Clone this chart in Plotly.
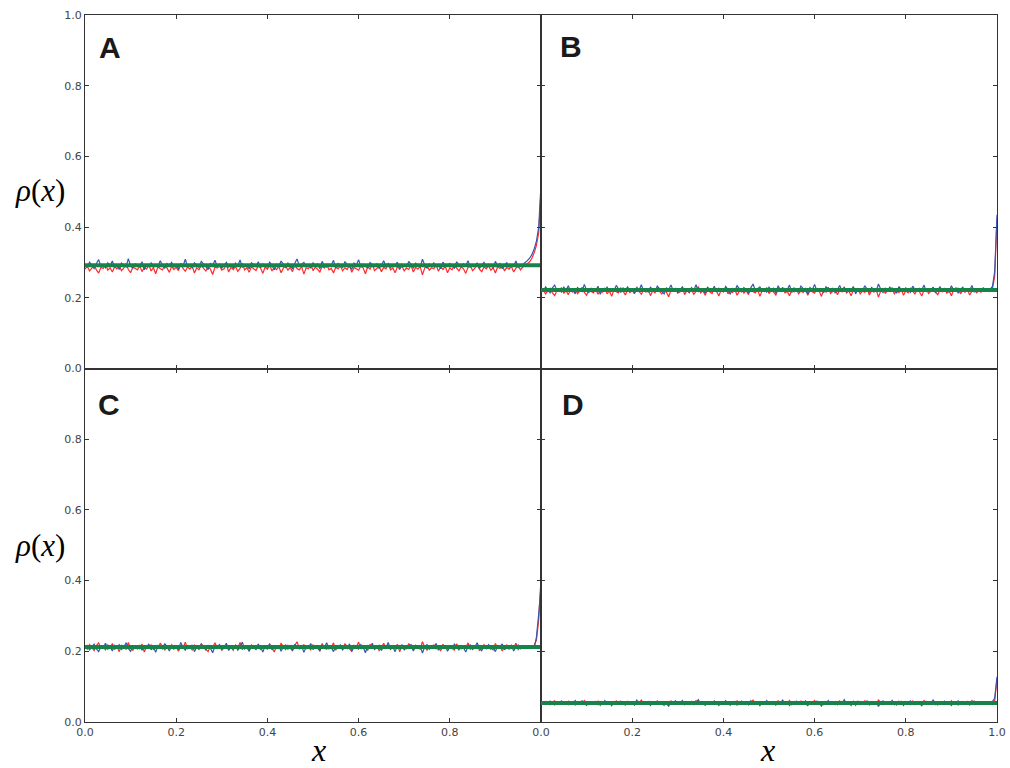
import plotly.graph_objects as go
from plotly.subplots import make_subplots

# x positions of the sampled profile (0 .. 1, step 0.005)
x_vals = [k / 200 for k in range(201)]

A_red = [
.281,.289,.276,.284,.292,.279,.270,.286,.283,.295,.278,.285,.273,.288,.282,.290,
.277,.284,.296,.280,.271,.287,.283,.279,.291,.274,.286,.281,.293,.276,.285,.268,
.288,.282,.279,.294,.284,.272,.289,.280,.286,.277,.297,.283,.275,.287,.281,.290,
.270,.285,.279,.292,.283,.276,.288,.281,.266,.287,.284,.291,.278,.282,.295,.273,
.286,.280,.289,.275,.283,.298,.279,.285,.272,.288,.282,.277,.291,.284,.269,.287,
.281,.293,.276,.285,.280,.289,.271,.284,.290,.278,.286,.274,.292,.283,.279,.288,
.267,.285,.282,.294,.277,.286,.281,.273,.289,.284,.296,.279,.283,.270,.287,.282,
.290,.276,.285,.280,.293,.272,.286,.283,.278,.291,.284,.268,.288,.281,.295,.277,
.284,.289,.274,.286,.282,.297,.279,.285,.271,.287,.283,.290,.276,.284,.280,.292,
.273,.286,.281,.288,.265,.284,.291,.278,.285,.282,.294,.275,.287,.280,.289,.271,
.285,.279,.292,.283,.276,.288,.282,.269,.286,.290,.277,.284,.296,.281,.274,.287,
.282,.291,.278,.285,.270,.288,.283,.293,.276,.286,.281,.289,.273,.284,.290,.279,
.287,.291,.296,.302,.312,.327,.348,.385,.505]

A_blue = [
.294,.287,.301,.290,.283,.297,.308,.289,.293,.285,.299,.291,.304,.286,.295,.280,
.298,.292,.287,.311,.290,.284,.296,.293,.288,.302,.279,.294,.290,.299,.286,.293,
.289,.305,.292,.284,.297,.291,.300,.287,.294,.281,.296,.290,.309,.288,.293,.285,
.299,.291,.286,.303,.294,.288,.280,.297,.292,.306,.289,.295,.284,.291,.300,.287,
.293,.284,.298,.290,.307,.286,.294,.291,.282,.299,.293,.288,.302,.285,.296,.290,
.287,.301,.292,.279,.295,.289,.304,.293,.286,.298,.291,.283,.297,.310,.290,.294,
.300,.288,.293,.285,.299,.291,.296,.282,.303,.290,.287,.295,.292,.306,.284,.297,
.291,.286,.302,.294,.289,.281,.298,.292,.308,.287,.295,.290,.284,.300,.293,.288,
.296,.283,.292,.305,.289,.297,.286,.294,.291,.301,.280,.295,.290,.288,.303,.292,
.285,.298,.291,.287,.309,.293,.284,.296,.290,.299,.288,.294,.282,.301,.292,.289,
.297,.290,.284,.302,.293,.288,.296,.291,.305,.286,.294,.289,.299,.283,.292,.300,
.288,.295,.291,.285,.303,.290,.297,.282,.293,.299,.287,.294,.290,.304,.286,.293,
.294,.299,.305,.312,.322,.338,.360,.400,.520]

B_red = [
.217,.223,.211,.220,.227,.214,.206,.221,.218,.229,.213,.220,.209,.224,.216,.226,
.212,.219,.230,.215,.207,.222,.218,.214,.225,.210,.221,.216,.228,.211,.220,.204,
.223,.217,.214,.228,.219,.208,.224,.215,.221,.212,.231,.218,.210,.222,.216,.225,
.206,.220,.214,.227,.218,.211,.223,.216,.203,.222,.219,.226,.213,.217,.229,.209,
.221,.215,.224,.210,.218,.232,.214,.220,.207,.223,.217,.212,.226,.219,.205,.222,
.216,.228,.211,.220,.215,.224,.207,.219,.225,.213,.221,.209,.227,.218,.214,.223,
.204,.220,.217,.229,.212,.221,.216,.208,.224,.219,.230,.214,.218,.206,.222,.217,
.225,.211,.220,.215,.228,.207,.221,.218,.213,.226,.219,.204,.223,.216,.230,.212,
.219,.224,.209,.221,.217,.231,.214,.220,.206,.222,.218,.225,.211,.219,.215,.227,
.208,.221,.216,.223,.202,.219,.226,.213,.220,.217,.229,.210,.222,.215,.224,.207,
.220,.214,.227,.218,.211,.223,.217,.205,.221,.225,.212,.219,.230,.216,.209,.222,
.217,.226,.213,.220,.206,.223,.218,.228,.211,.221,.216,.224,.208,.219,.225,.214,
.220,.216,.223,.218,.221,.219,.225,.262,.425]

B_blue = [
.225,.218,.231,.221,.214,.228,.236,.220,.224,.216,.230,.222,.234,.217,.226,.211,
.229,.223,.218,.238,.221,.215,.227,.224,.219,.233,.210,.225,.221,.230,.217,.224,
.220,.235,.223,.215,.228,.222,.231,.218,.225,.212,.227,.221,.237,.219,.224,.216,
.230,.222,.217,.233,.225,.219,.211,.228,.223,.236,.220,.226,.215,.222,.231,.218,
.224,.215,.229,.221,.237,.217,.225,.222,.213,.230,.224,.219,.233,.216,.227,.221,
.218,.232,.223,.210,.226,.220,.234,.224,.217,.229,.222,.214,.228,.239,.221,.225,
.231,.219,.224,.216,.230,.222,.227,.213,.234,.221,.218,.226,.223,.236,.215,.228,
.222,.217,.233,.225,.220,.212,.229,.223,.238,.218,.226,.221,.215,.231,.224,.219,
.227,.214,.223,.235,.220,.228,.217,.225,.222,.232,.211,.226,.221,.219,.234,.223,
.216,.229,.222,.218,.239,.224,.215,.227,.221,.230,.219,.225,.213,.232,.223,.220,
.228,.221,.215,.233,.224,.219,.227,.222,.236,.217,.225,.220,.230,.214,.223,.231,
.219,.226,.222,.216,.234,.221,.228,.213,.224,.230,.218,.225,.221,.235,.217,.224,
.225,.221,.228,.223,.226,.224,.232,.275,.435]

C_red = [
.213,.206,.219,.209,.202,.216,.224,.208,.212,.204,.218,.210,.222,.205,.214,.199,
.217,.211,.206,.225,.209,.203,.215,.212,.207,.221,.198,.213,.209,.218,.205,.212,
.208,.223,.211,.203,.216,.210,.219,.206,.213,.200,.215,.209,.226,.207,.212,.204,
.218,.210,.205,.221,.213,.207,.199,.216,.211,.224,.208,.214,.203,.210,.219,.206,
.212,.203,.217,.209,.225,.205,.213,.210,.201,.218,.212,.207,.221,.204,.215,.209,
.206,.220,.211,.198,.214,.208,.222,.212,.205,.217,.210,.202,.216,.227,.209,.213,
.219,.207,.212,.204,.218,.210,.215,.201,.222,.209,.206,.214,.211,.224,.203,.216,
.210,.205,.221,.213,.208,.200,.217,.211,.226,.206,.214,.209,.203,.219,.212,.207,
.215,.202,.211,.223,.208,.216,.205,.213,.210,.220,.199,.214,.209,.207,.222,.211,
.204,.217,.210,.206,.227,.212,.203,.215,.209,.218,.207,.213,.201,.220,.211,.208,
.216,.209,.203,.221,.212,.207,.215,.210,.224,.205,.213,.208,.218,.202,.211,.219,
.207,.214,.210,.204,.222,.209,.216,.201,.212,.218,.206,.213,.209,.223,.205,.212,
.209,.214,.210,.213,.208,.216,.232,.290,.405]

C_blue = [
.209,.216,.204,.213,.220,.207,.199,.214,.211,.223,.206,.212,.201,.217,.210,.219,
.205,.212,.224,.208,.200,.215,.211,.207,.218,.203,.214,.209,.221,.204,.213,.197,
.216,.210,.207,.222,.212,.201,.217,.208,.214,.205,.225,.211,.203,.215,.209,.218,
.199,.213,.207,.220,.211,.204,.216,.209,.196,.215,.212,.219,.206,.210,.223,.202,
.214,.208,.217,.203,.211,.226,.207,.213,.200,.216,.210,.205,.219,.212,.198,.215,
.209,.221,.204,.213,.208,.217,.200,.212,.218,.206,.214,.202,.220,.211,.207,.216,
.197,.213,.210,.222,.205,.214,.209,.201,.217,.212,.224,.207,.211,.199,.215,.210,
.218,.204,.213,.208,.221,.200,.214,.211,.206,.219,.212,.196,.216,.209,.223,.205,
.212,.217,.202,.214,.210,.225,.207,.213,.199,.215,.211,.218,.204,.212,.208,.220,
.201,.214,.209,.216,.195,.212,.219,.206,.213,.210,.222,.203,.215,.208,.217,.200,
.213,.207,.220,.211,.204,.216,.210,.198,.214,.218,.205,.212,.224,.209,.202,.215,
.210,.219,.206,.213,.199,.216,.211,.221,.204,.214,.209,.217,.201,.212,.218,.207,
.213,.208,.215,.211,.214,.210,.240,.305,.385]

D_red = [
.055,.051,.058,.053,.049,.056,.060,.052,.054,.050,.057,.053,.059,.051,.055,.048,
.057,.054,.051,.061,.053,.049,.056,.054,.052,.059,.047,.055,.053,.058,.051,.054,
.052,.060,.054,.050,.057,.053,.058,.051,.055,.048,.056,.053,.062,.052,.054,.050,
.058,.053,.051,.059,.055,.052,.047,.057,.054,.060,.052,.056,.050,.053,.058,.051,
.055,.050,.057,.053,.061,.051,.055,.053,.048,.058,.054,.052,.059,.050,.056,.053,
.051,.059,.054,.047,.056,.053,.060,.054,.051,.057,.053,.049,.056,.062,.052,.055,
.058,.052,.054,.050,.057,.053,.056,.048,.060,.053,.051,.055,.054,.061,.049,.056,
.053,.051,.059,.055,.052,.047,.057,.054,.061,.051,.055,.053,.049,.058,.054,.052,
.056,.049,.054,.060,.052,.057,.051,.055,.053,.059,.047,.056,.053,.051,.060,.054,
.050,.057,.053,.051,.062,.055,.049,.056,.053,.058,.052,.055,.048,.059,.054,.052,
.057,.053,.049,.059,.055,.052,.056,.053,.061,.050,.055,.052,.058,.049,.054,.058,
.052,.056,.054,.050,.060,.053,.057,.048,.055,.058,.051,.056,.053,.061,.050,.055,
.054,.052,.056,.053,.055,.054,.055,.061,.122]

D_blue = [
.053,.057,.050,.055,.059,.052,.048,.056,.054,.060,.051,.055,.049,.058,.053,.061,
.051,.055,.060,.052,.047,.057,.054,.051,.058,.049,.056,.053,.061,.050,.055,.046,
.057,.053,.050,.059,.054,.048,.058,.052,.056,.049,.062,.054,.050,.056,.053,.058,
.047,.055,.051,.059,.054,.050,.057,.053,.045,.056,.055,.060,.052,.054,.061,.049,
.056,.052,.058,.049,.054,.063,.051,.055,.048,.057,.053,.050,.059,.055,.047,.056,
.053,.060,.050,.055,.052,.058,.048,.054,.059,.051,.056,.049,.060,.054,.051,.057,
.046,.055,.053,.061,.050,.056,.052,.048,.058,.054,.062,.051,.055,.047,.057,.053,
.059,.050,.055,.052,.060,.047,.056,.054,.051,.059,.054,.045,.057,.053,.061,.050,
.054,.058,.049,.056,.053,.063,.051,.055,.047,.057,.054,.059,.050,.054,.052,.060,
.048,.056,.053,.057,.044,.054,.060,.051,.055,.053,.061,.049,.056,.052,.058,.047,
.055,.051,.060,.054,.049,.057,.053,.046,.056,.059,.050,.054,.062,.052,.048,.056,
.053,.059,.050,.055,.047,.057,.054,.060,.051,.056,.052,.058,.048,.055,.059,.051,
.055,.051,.057,.054,.056,.053,.058,.068,.128]

# theoretical (flat) density levels
green_levels = {"A": 0.292, "B": 0.222, "C": 0.212, "D": 0.054}
green_x = [0.0, 1.0]

panels = [
    ("A", 1, 1, A_red, A_blue),
    ("B", 1, 2, B_red, B_blue),
    ("C", 2, 1, C_red, C_blue),
    ("D", 2, 2, D_red, D_blue),
]

tick_vals = [0.0, 0.2, 0.4, 0.6, 0.8, 1.0]
tick_text = ["0.0", "0.2", "0.4", "0.6", "0.8", "1.0"]

RED = "#ff2a2a"
BLUE = "#3556b0"
GREEN = "#16834a"
AXC = "#333333"

fig = make_subplots(rows=2, cols=2, horizontal_spacing=0, vertical_spacing=0)

for name, r, c, red, blue in panels:
    fig.add_trace(go.Scatter(x=x_vals, y=red, mode="lines",
                             line=dict(color=RED, width=1.2), showlegend=False), row=r, col=c)
    fig.add_trace(go.Scatter(x=x_vals, y=blue, mode="lines",
                             line=dict(color=BLUE, width=1.2), showlegend=False), row=r, col=c)
    fig.add_trace(go.Scatter(x=green_x, y=[green_levels[name]] * 2, mode="lines",
                             line=dict(color=GREEN, width=4), showlegend=False), row=r, col=c)

    show_x = (r == 2)
    show_y = (c == 1)
    xt = tick_vals if (c == 2 or r == 1) else tick_vals[:-1]
    yt = tick_vals if (r == 1 or c == 2) else tick_vals[:-1]
    fig.update_xaxes(range=[0, 1], showgrid=False, zeroline=False, showline=True,
                     linecolor=AXC, linewidth=1, mirror="ticks", ticks="inside",
                     ticklen=4, tickcolor=AXC, tickvals=xt, automargin=False,
                     ticktext=[tick_text[tick_vals.index(v)] for v in xt],
                     showticklabels=show_x,
                     tickfont=dict(family="DejaVu Sans", size=11, color="#444444"),
                     row=r, col=c)
    fig.update_yaxes(range=[0, 1], showgrid=False, zeroline=False, showline=True,
                     linecolor=AXC, linewidth=1, mirror="ticks", ticks="inside",
                     ticklen=4, tickcolor=AXC, tickvals=yt, automargin=False,
                     ticktext=[tick_text[tick_vals.index(v)] for v in yt],
                     showticklabels=show_y,
                     tickfont=dict(family="DejaVu Sans", size=11, color="#444444"),
                     row=r, col=c)

W, H = 1010, 768
ML, MR, MT, MB = 85, 13, 15, 46
pw, ph = W - ML - MR, H - MT - MB


def px(xp):
    return (xp - ML) / pw


def py(yp):
    return 1 - (yp - MT) / ph


annots = []
label_pos = {"A": (109.5, 47), "B": (571, 46.5), "C": (109, 404), "D": (573, 404)}
for name, (lx, ly) in label_pos.items():
    annots.append(dict(text="<b>%s</b>" % name, x=px(lx), y=py(ly), xref="paper", yref="paper",
                       xanchor="center", yanchor="middle", showarrow=False,
                       font=dict(family="Liberation Sans", size=30, color="#1a1a1a")))

for yy in (190, 545):
    annots.append(dict(text="<i>ρ</i>(<i>x</i>)", x=px(40), y=py(yy), xref="paper", yref="paper",
                       xanchor="center", yanchor="middle", showarrow=False,
                       font=dict(family="Liberation Serif", size=31, color="#000000")))

for xx in (318, 767):
    annots.append(dict(text="<i>x</i>", x=px(xx), y=py(750), xref="paper", yref="paper",
                       xanchor="center", yanchor="middle", showarrow=False,
                       font=dict(family="Liberation Serif", size=32, color="#000000")))

fig.update_layout(width=W, height=H, margin=dict(l=ML, r=MR, t=MT, b=MB, autoexpand=False),
                  plot_bgcolor="white", paper_bgcolor="white", annotations=annots)

fig.write_html("out.html",
               config={"responsive": False, "displayModeBar": False},
               post_script="document.body.style.margin='0';document.body.style.padding='0';"
                           "document.documentElement.style.overflow='hidden';")
